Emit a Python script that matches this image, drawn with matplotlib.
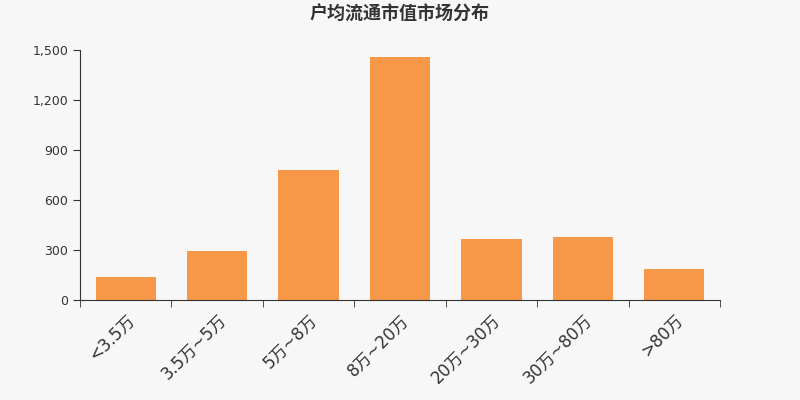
import matplotlib
matplotlib.use("Agg")
import matplotlib.pyplot as plt
from matplotlib.ticker import FuncFormatter
import numpy as np

plt.rcParams['font.family'] = ['DejaVu Sans', 'Noto Sans CJK SC']

categories = ["<3.5万", "3.5万~5万", "5万~8万", "8万~20万", "20万~30万", "30万~80万", ">80万"]
values = [138, 294, 780, 1460, 364, 378, 184]
yticks = [0, 300, 600, 900, 1200, 1500]

fig = plt.figure(figsize=(8, 4), dpi=100, facecolor="#f7f7f7")
ax = fig.add_axes([0.1, 0.25, 0.8, 0.625])
ax.set_facecolor("#f7f7f7")

x = np.arange(len(categories))
ax.bar(x, values, width=0.66, color="#f79848")

ax.set_xlim(-0.5, len(categories) - 0.5)
ax.set_ylim(0, 1500)
ax.set_yticks(yticks)
ax.yaxis.set_major_formatter(FuncFormatter(lambda v, p: f"{int(v):,}"))

ax.set_xticks(x)
ax.set_xticklabels(categories, rotation=45, ha="right", rotation_mode="anchor", fontsize=12, color="#333333")
ax.set_xticks(np.arange(len(categories) + 1) - 0.5, minor=True)
ax.tick_params(axis="x", which="major", length=0, pad=8)
ax.tick_params(axis="x", which="minor", length=5, color="#333333")
ax.tick_params(axis="y", length=5, color="#333333", labelsize=9, labelcolor="#333333")

for s in ["top", "right"]:
    ax.spines[s].set_visible(False)
for s in ["left", "bottom"]:
    ax.spines[s].set_color("#333333")

fig.text(0.5, 0.965, "户均流通市值市场分布", ha="center", va="center", fontsize=13,
         fontweight="bold", color="#333333", family=["Noto Sans CJK SC", "DejaVu Sans"])

fig.savefig("out.png", dpi=100, facecolor=fig.get_facecolor())
